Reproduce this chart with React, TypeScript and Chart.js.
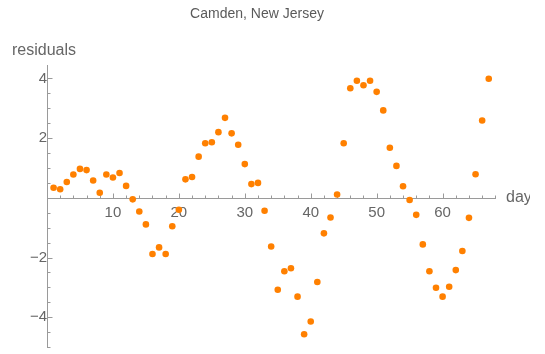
import React, { useEffect, useRef } from "react";
import { Chart, registerables } from "chart.js";

Chart.register(...registerables);

const chartTitle = "Camden, New Jersey";
const xAxisLabel = "days";
const yAxisLabel = "residuals";

const days = [
  1, 2, 3, 4, 5, 6, 7, 8, 9, 10, 11, 12, 13, 14, 15, 16, 17, 18, 19, 20,
  21, 22, 23, 24, 25, 26, 27, 28, 29, 30, 31, 32, 33, 34, 35, 36, 37, 38, 39, 40,
  41, 42, 43, 44, 45, 46, 47, 48, 49, 50, 51, 52, 53, 54, 55, 56, 57, 58, 59, 60,
  61, 62, 63, 64, 65, 66, 67,
];

const residuals = [
  0.34, 0.29, 0.53, 0.78, 0.97, 0.93, 0.58, 0.17, 0.78, 0.68,
  0.83, 0.4, -0.05, -0.46, -0.89, -1.88, -1.66, -1.88, -0.95, -0.4,
  0.62, 0.7, 1.38, 1.83, 1.86, 2.2, 2.68, 2.16, 1.78, 1.13,
  0.46, 0.5, -0.43, -1.63, -3.08, -2.46, -2.36, -3.31, -4.57, -4.14,
  -2.82, -1.19, -0.66, 0.11, 1.83, 3.67, 3.92, 3.77, 3.92, 3.55,
  2.93, 1.68, 1.07, 0.39, -0.07, -0.57, -1.56, -2.46, -3.01, -3.31,
  -2.98, -2.42, -1.78, -0.67, 0.79, 2.59, 3.99,
];

const xTicks = [
  0, 2, 4, 6, 8, 10, 12, 14, 16, 18, 20, 22, 24, 26, 28, 30, 32, 34, 36, 38,
  40, 42, 44, 46, 48, 50, 52, 54, 56, 58, 60, 62, 64, 66, 68,
];
const xMajor = [10, 20, 30, 40, 50, 60];

const yTicks = [
  -5, -4.5, -4, -3.5, -3, -2.5, -2, -1.5, -1, -0.5, 0, 0.5, 1, 1.5, 2, 2.5, 3,
  3.5, 4,
];
const yMajor = [-4, -2, 2, 4];

const X_MIN = 0;
const X_MAX = 68.1;
const Y_MIN = -5.03;
const Y_MAX = 4.45;

const FONT = "'Liberation Sans', Arial, Helvetica, sans-serif";
const AXIS_COLOR = "#9a9a9a";
const TEXT_COLOR = "#666666";
const POINT_COLOR = "#ff8000";

const fmt = (v: number) => (v < 0 ? "\u2212" + Math.abs(v) : String(v));

const zeroPadding = (scale: any) => {
  scale.paddingTop = 0;
  scale.paddingBottom = 0;
  scale.paddingLeft = 0;
  scale.paddingRight = 0;
};

const axesPlugin = {
  id: "mathAxes",
  beforeDatasetsDraw(chart: any) {
    const { ctx } = chart;
    const xs = chart.scales.x;
    const ys = chart.scales.y;
    const y0 = ys.getPixelForValue(0);
    const x0 = xs.getPixelForValue(0);
    ctx.save();
    ctx.strokeStyle = AXIS_COLOR;
    ctx.lineWidth = 1;
    ctx.beginPath();
    ctx.moveTo(xs.getPixelForValue(X_MIN), Math.round(y0) + 0.5);
    ctx.lineTo(xs.getPixelForValue(X_MAX), Math.round(y0) + 0.5);
    ctx.moveTo(Math.round(x0) + 0.5, ys.getPixelForValue(Y_MAX));
    ctx.lineTo(Math.round(x0) + 0.5, ys.getPixelForValue(Y_MIN));
    for (const t of xTicks) {
      if (t === 0) continue;
      const px = Math.round(xs.getPixelForValue(t)) + 0.5;
      const len = xMajor.includes(t) ? 5 : 3;
      ctx.moveTo(px, Math.round(y0) + 0.5);
      ctx.lineTo(px, Math.round(y0) + 0.5 - len);
    }
    for (const t of yTicks) {
      if (t === 0) continue;
      const py = Math.round(ys.getPixelForValue(t)) + 0.5;
      const len = yMajor.includes(t) ? 5 : 3;
      ctx.moveTo(Math.round(x0) + 0.5, py);
      ctx.lineTo(Math.round(x0) + 0.5 + len, py);
    }
    ctx.stroke();
    ctx.restore();
  },
  afterDraw(chart: any) {
    const { ctx } = chart;
    const xs = chart.scales.x;
    const ys = chart.scales.y;
    ctx.save();
    ctx.fillStyle = "#5a5a5a";
    ctx.font = `14px ${FONT}`;
    ctx.textAlign = "center";
    ctx.textBaseline = "middle";
    ctx.fillText(chartTitle, 257, 14);
    ctx.fillStyle = TEXT_COLOR;
    ctx.font = `16px ${FONT}`;
    ctx.textAlign = "left";
    ctx.fillText(yAxisLabel, 12, 51);
    ctx.beginPath();
    ctx.rect(0, 0, 530, chart.height);
    ctx.clip();
    ctx.fillText(xAxisLabel, xs.getPixelForValue(X_MAX) + 10, ys.getPixelForValue(0));
    ctx.restore();
  },
};

export default function App() {
  const canvasRef = useRef<HTMLCanvasElement | null>(null);

  useEffect(() => {
    if (!canvasRef.current) return;
    const chart = new Chart(canvasRef.current, {
      type: "scatter",
      data: {
        datasets: [
          {
            data: days.map((d, i) => ({ x: d, y: residuals[i] })),
            backgroundColor: POINT_COLOR,
            borderColor: POINT_COLOR,
            borderWidth: 0,
            pointRadius: 3.3,
          },
        ],
      },
      options: {
        animation: false,
        responsive: true,
        maintainAspectRatio: false,
        layout: { padding: { left: 47, right: 49, top: 65, bottom: 6 } },
        plugins: {
          legend: { display: false },
          tooltip: { enabled: false },
          title: { display: false },
        },
        scales: {
          x: {
            type: "linear",
            min: X_MIN,
            max: X_MAX,
            position: { y: 0 },
            afterBuildTicks: (scale: any) => {
              scale.ticks = xTicks.map((v) => ({ value: v }));
            },
            afterFit: zeroPadding,
            grid: { display: false, drawTicks: false, tickLength: 0 },
            border: { display: false },
            ticks: {
              autoSkip: false,
              maxRotation: 0,
              padding: 6,
              color: TEXT_COLOR,
              font: { family: FONT, size: 15 },
              callback: (v: any) => (xMajor.includes(Number(v)) ? fmt(Number(v)) : ""),
            },
          },
          y: {
            type: "linear",
            min: Y_MIN,
            max: Y_MAX,
            position: { x: 0 },
            afterBuildTicks: (scale: any) => {
              scale.ticks = yTicks.map((v) => ({ value: v }));
            },
            afterFit: zeroPadding,
            grid: { display: false, drawTicks: false, tickLength: 0 },
            border: { display: false },
            ticks: {
              autoSkip: false,
              padding: 5,
              color: TEXT_COLOR,
              font: { family: FONT, size: 15 },
              callback: (v: any) => (yMajor.includes(Number(v)) ? fmt(Number(v)) : ""),
            },
          },
        },
      },
      plugins: [axesPlugin],
    } as any);
    return () => chart.destroy();
  }, []);

  return (
    <div style={{ position: "fixed", left: 0, top: 0, width: 545, height: 354 }}>
      <canvas ref={canvasRef} />
    </div>
  );
}
